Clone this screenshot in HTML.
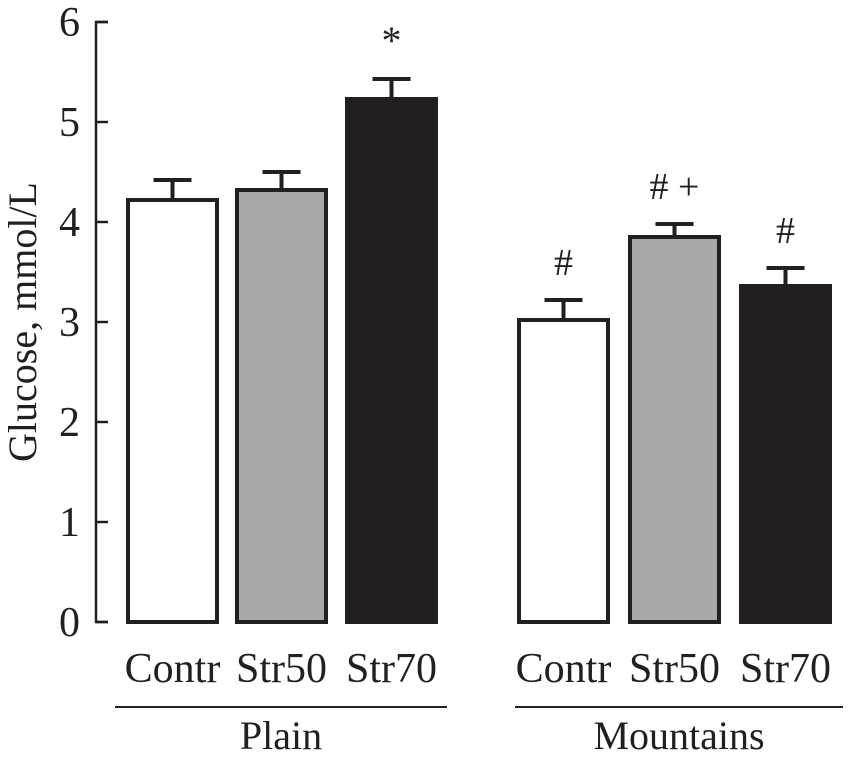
<!DOCTYPE html>
<html><head><meta charset="utf-8"><style>body{margin:0;background:#fff}svg{display:block}text{font-family:"Liberation Serif",serif;fill:#231f20}</style></head>
<body>
<svg id="chart" width="849" height="761" viewBox="0 0 849 761"></svg>
<script>
const categories=["Contr","Str50","Str70","Contr","Str50","Str70"];
const values=[4.22,4.32,5.23,3.02,3.85,3.36];
const errors=[0.20,0.18,0.20,0.20,0.13,0.18];
const marks=["","","*","#","# +","#"];
const yTicks=[0,1,2,3,4,5,6];
const groups=["Plain","Mountains"];
const NS="http://www.w3.org/2000/svg";
const svg=document.getElementById('chart');
function y(v){return 622-100*v;}
const barX=[128,237,347,519,630,741],barW=89;
const fills=["#fff","#a7a8aa","#231f20","#fff","#a7a8aa","#231f20"];
function el(t,a,txt){const e=document.createElementNS(NS,t);for(const k in a)e.setAttribute(k,a[k]);if(txt!==undefined)e.textContent=txt;svg.appendChild(e);return e;}
const ax=el('path',{d:`M108 ${y(6)} H96 V${y(0)} H108`,fill:'none',stroke:'#231f20','stroke-width':2.5});

yTicks.forEach(t=>{
 const tk=el('line',{x1:96,x2:108,y1:y(t),y2:y(t),stroke:'#231f20','stroke-width':2.5});
 
 const l=el('text',{x:80,y:y(t)+14,'text-anchor':'end','font-size':42},t);
 
});
const yt=el('text',{transform:'translate(36,322) rotate(-90)','text-anchor':'middle','font-size':40},'Glucose, mmol/L');

values.forEach((v,i)=>{
 const cx=barX[i]+barW/2;
 const eb=el('path',{d:`M${cx} ${y(v)} V${y(v+errors[i])} M${cx-19} ${y(v+errors[i])} H${cx+19}`,stroke:'#231f20','stroke-width':4,fill:'none'});
 
 const b=el('rect',{x:barX[i],y:y(v),width:barW,height:y(0)-y(v),fill:fills[i],stroke:'#231f20','stroke-width':4});
 
 if(marks[i]){const m=el('text',{x:cx,y:y(v+errors[i])-25,'text-anchor':'middle','font-size':marks[i]=="*"?40:38},marks[i]);
 }
 const c=el('text',{x:cx,y:682,'text-anchor':'middle','font-size':42},categories[i]);
 
});
[[115,447],[515,843]].forEach((r,g)=>{
 const ln=el('line',{x1:r[0],x2:r[1],y1:707,y2:707,stroke:'#231f20','stroke-width':2});
 
 const gl=el('text',{x:(r[0]+r[1])/2,y:749,'text-anchor':'middle','font-size':40},groups[g]);
 
});
</script>
</body></html>
